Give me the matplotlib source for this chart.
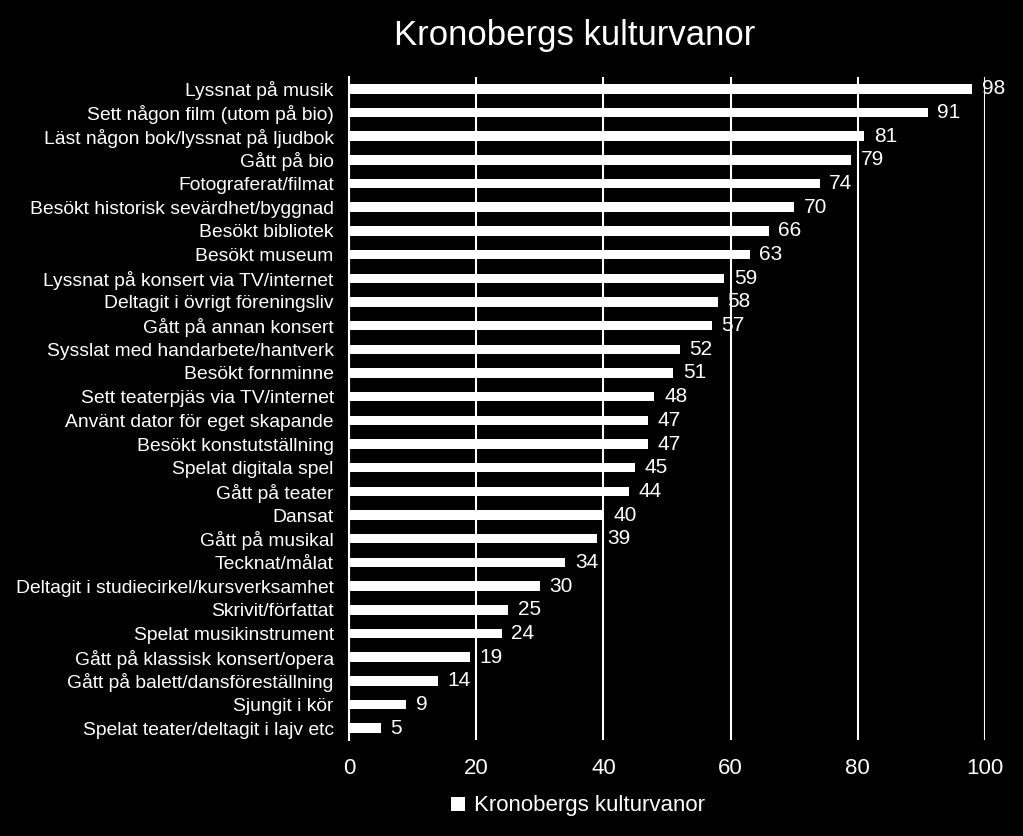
import matplotlib.pyplot as plt

categories = [
    'Lyssnat på musik',
    'Sett någon film (utom på bio)',
    'Läst någon bok/lyssnat på ljudbok',
    'Gått på bio',
    'Fotograferat/filmat',
    'Besökt historisk sevärdhet/byggnad',
    'Besökt bibliotek',
    'Besökt museum',
    'Lyssnat på konsert via TV/internet',
    'Deltagit i övrigt föreningsliv',
    'Gått på annan konsert',
    'Sysslat med handarbete/hantverk',
    'Besökt fornminne',
    'Sett teaterpjäs via TV/internet',
    'Använt dator för eget skapande',
    'Besökt konstutställning',
    'Spelat digitala spel',
    'Gått på teater',
    'Dansat',
    'Gått på musikal',
    'Tecknat/målat',
    'Deltagit i studiecirkel/kursverksamhet',
    'Skrivit/författat',
    'Spelat musikinstrument',
    'Gått på klassisk konsert/opera',
    'Gått på balett/dansföreställning',
    'Sjungit i kör',
    'Spelat teater/deltagit i lajv etc',
]
values = [98, 91, 81, 79, 74, 70, 66, 63, 59, 58, 57, 52, 51, 48, 47, 47,
          45, 44, 40, 39, 34, 30, 25, 24, 19, 14, 9, 5]
xticks = [0, 20, 40, 60, 80, 100]

plt.rcParams['font.family'] = ['Liberation Sans', 'DejaVu Sans']

fig = plt.figure(figsize=(10.23, 8.36), dpi=100, facecolor='black')
ax = fig.add_axes([349 / 1023, 1 - 740 / 836, (985 - 349) / 1023, (740 - 77) / 836])
ax.set_facecolor('black')

pos = list(range(len(categories)))
ax.set_axisbelow(True)
ax.xaxis.grid(True, color='white', linewidth=1.5)
bars = ax.barh(pos, values, height=0.4, color='white', label='Kronobergs kulturvanor', zorder=3)

# value labels right of each bar
for p, v in zip(pos, values):
    ax.annotate(str(v), (v, p), xytext=(7, 0), textcoords='offset points',
                ha='left', va='center', color='white', fontsize=15, zorder=4)

ax.set_ylim(len(categories) - 0.5, -0.5)
ax.set_xlim(0, 100)
ax.set_xticks(xticks)
ax.set_yticks(pos)
ax.set_yticklabels(categories, fontsize=13.9, color='white')
ax.tick_params(axis='x', colors='white', labelsize=16, length=0, pad=13)
ax.tick_params(axis='y', length=0, pad=11)

for side in ['top', 'right', 'bottom']:
    ax.spines[side].set_visible(False)
ax.spines['left'].set_color('white')
ax.spines['left'].set_linewidth(1.5)

fig.text(575 / 1023, 1 - 35 / 836, 'Kronobergs kulturvanor', ha='center', va='center',
         color='white', fontsize=25)

leg = fig.legend(handles=[bars], labels=['Kronobergs kulturvanor'], loc='center',
                 bbox_to_anchor=(578 / 1023, 1 - 806 / 836), frameon=False,
                 fontsize=16, handlelength=0.6, handleheight=0.6, handletextpad=0.4)
for t in leg.get_texts():
    t.set_color('white')

fig.savefig('out.png', dpi=100, facecolor='black')
